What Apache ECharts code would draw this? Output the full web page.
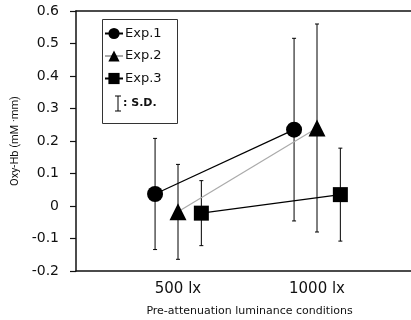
<!DOCTYPE html>
<html>
<head>
<meta charset="utf-8">
<script src="https://cdn.jsdelivr.net/npm/echarts@6/dist/echarts.min.js"></script>
<style>html,body{margin:0;padding:0;background:#fff}#c{width:411px;height:320px}</style>
</head>
<body>
<div id="c"></div>
<script>
var categories = ['500 lx', '1000 lx'];
var seriesNames = ['Exp.1', 'Exp.2', 'Exp.3'];
var exp1Mean = [0.037, 0.235];
var exp1SD = [0.171, 0.281];
var exp2Mean = [-0.018, 0.240];
var exp2SD = [0.146, 0.320];
var exp3Mean = [-0.022, 0.035];
var exp3SD = [0.100, 0.143];
var yTicks = [-0.2, -0.1, 0, 0.1, 0.2, 0.3, 0.4, 0.5, 0.6];

var means = [exp1Mean, exp2Mean, exp3Mean];
var sds = [exp1SD, exp2SD, exp3SD];
var offsets = [-0.165, 0, 0.168];
var symbols = ['circle', 'triangle', 'rect'];
var lineColors = ['#000', '#aaa', '#000'];
var symSizes = [16, 17, 15];
var FONT = '"DejaVu Sans", sans-serif';

var chart = echarts.init(document.getElementById('c'), null, {renderer: 'canvas'});
var series = [];
var errData = [];
means.forEach(function (m, s) {
  series.push({
    name: seriesNames[s],
    type: 'line',
    data: m.map(function (v, i) { return [i + 1 + offsets[s], v]; }),
    symbol: symbols[s],
    symbolSize: symSizes[s],
    itemStyle: {color: '#000'},
    lineStyle: {color: lineColors[s], width: 1.2},
    z: 5,
    animation: false
  });
  m.forEach(function (v, i) {
    errData.push([i + 1 + offsets[s], v, sds[s][i]]);
  });
});
series.push({
  type: 'custom',
  z: 2,
  silent: true,
  animation: false,
  data: errData,
  renderItem: function (params, api) {
    var x = api.value(0), y = api.value(1), sd = api.value(2);
    var top = api.coord([x, y + sd]);
    var bot = api.coord([x, y - sd]);
    var st = {stroke: '#000', lineWidth: 1};
    return {
      type: 'group',
      children: [
        {type: 'line', shape: {x1: top[0], y1: top[1], x2: bot[0], y2: bot[1]}, style: st},
        {type: 'line', shape: {x1: top[0] - 2, y1: top[1], x2: top[0] + 2, y2: top[1]}, style: st},
        {type: 'line', shape: {x1: bot[0] - 2, y1: bot[1], x2: bot[0] + 2, y2: bot[1]}, style: st}
      ]
    };
  }
});

var option = {
  animation: false,
  textStyle: {fontFamily: FONT},
  grid: {left: 76, right: -2, top: 11, bottom: 49, containLabel: false, outerBoundsMode: 'none'},
  xAxis: [{
    type: 'value',
    min: 0.2662,
    max: 2.6906,
    splitLine: {show: false},
    axisLine: {show: true, onZero: false, lineStyle: {color: '#111', width: 1.5}},
    axisTick: {show: false},
    axisLabel: {
      customValues: [1, 2],
      formatter: function (v) { return categories[Math.round(v) - 1]; },
      fontSize: 15, color: '#111', margin: 11, fontFamily: FONT
    },
    name: 'Pre-attenuation luminance conditions',
    nameLocation: 'middle',
    nameGap: 35,
    nameTextStyle: {fontSize: 11, color: '#111', padding: [0, 0, 0, 10], fontFamily: FONT}
  }, {
    type: 'value',
    position: 'top',
    min: 0, max: 1,
    axisLine: {show: true, onZero: false, lineStyle: {color: '#111', width: 1.5}},
    axisTick: {show: false},
    axisLabel: {show: false},
    splitLine: {show: false}
  }],
  yAxis: {
    type: 'value',
    min: -0.2, max: 0.6, interval: 0.1,
    splitLine: {show: false},
    axisLine: {show: true, onZero: false, lineStyle: {color: '#111', width: 1.5}},
    axisTick: {show: true, length: 6, lineStyle: {color: '#111', width: 1.2}},
    axisLabel: {
      customValues: yTicks,
      formatter: function (v) { return String(Math.round(v * 10) / 10); },
      fontSize: 14, color: '#111', margin: 17, fontFamily: FONT
    },
    name: 'Oxy-Hb (mM \u00b7mm)',
    nameLocation: 'middle',
    nameGap: 41,
    nameTextStyle: {fontSize: 11, color: '#111', padding: [0, 0, 8, 0], fontFamily: 'Roboto, sans-serif'}
  },
  legend: {
    orient: 'vertical',
    left: 104,
    top: 27,
    itemWidth: 18,
    itemHeight: 14,
    itemGap: 9.5,
    padding: 0,
    data: seriesNames,
    textStyle: {fontSize: 13, color: '#111', padding: [0, 0, 0, -3], fontFamily: FONT}
  },
  graphic: [
    {type: 'rect', shape: {x: 102.5, y: 19.5, width: 75, height: 104}, style: {fill: 'none', stroke: '#333', lineWidth: 1}, z: 10},
    {type: 'line', shape: {x1: 118, y1: 96, x2: 118, y2: 111}, style: {stroke: '#000', lineWidth: 1}, z: 10},
    {type: 'line', shape: {x1: 115, y1: 96, x2: 121, y2: 96}, style: {stroke: '#000', lineWidth: 1}, z: 10},
    {type: 'line', shape: {x1: 115, y1: 111, x2: 121, y2: 111}, style: {stroke: '#000', lineWidth: 1}, z: 10},
    {type: 'text', x: 123, y: 103, style: {text: ': S.D.', fontSize: 11, fontWeight: 'bold', fill: '#111', fontFamily: FONT, verticalAlign: 'middle'}, z: 10}
  ],
  series: series
};
chart.setOption(option);
</script>
</body>
</html>
